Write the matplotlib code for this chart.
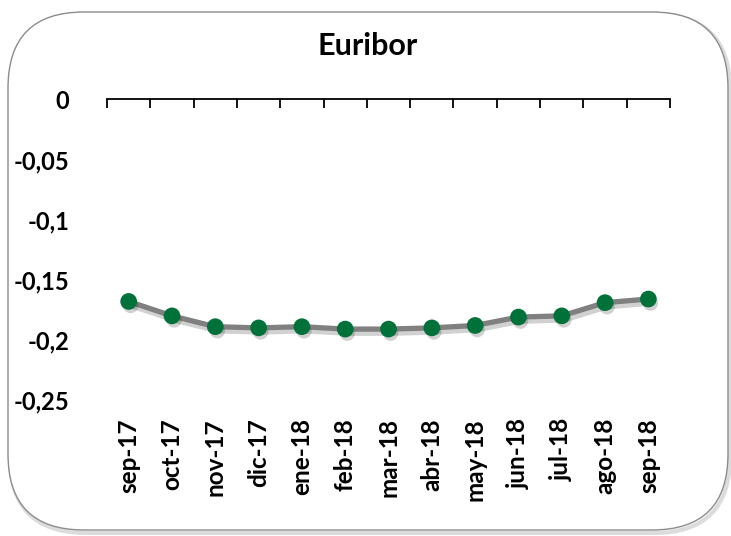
#
# Euribor chart
#
import matplotlib
matplotlib.use('Agg')
import matplotlib.pyplot as plt
import matplotlib.patheffects as pe
from matplotlib.patches import FancyBboxPatch
from matplotlib.transforms import IdentityTransform

months = ['sep-17', 'oct-17', 'nov-17', 'dic-17', 'ene-18', 'feb-18', 'mar-18',
          'abr-18', 'may-18', 'jun-18', 'jul-18', 'ago-18', 'sep-18']
euribor = [-0.168, -0.180, -0.189, -0.190, -0.189, -0.191, -0.191,
           -0.190, -0.188, -0.181, -0.180, -0.169, -0.166]
y_ticks = [0, -0.05, -0.1, -0.15, -0.2, -0.25]
y_labels = ['0', '-0,05', '-0,1', '-0,15', '-0,2', '-0,25']

plt.rcParams['font.family'] = ['Lato', 'DejaVu Sans']

fig = plt.figure(figsize=(7.31, 5.36), dpi=100)

# rounded frame with a soft shadow
shadow = FancyBboxPatch((10, 3), 720, 519, boxstyle="round,pad=0,rounding_size=76",
                        transform=IdentityTransform(), facecolor='none',
                        edgecolor='#dcdcdc', linewidth=3, zorder=-2)
frame = FancyBboxPatch((8, 6), 720, 518, boxstyle="round,pad=0,rounding_size=76",
                       transform=IdentityTransform(), facecolor='white',
                       edgecolor='#8c8c8c', linewidth=1, zorder=-1)
fig.patches.append(shadow)
fig.patches.append(frame)

ax = fig.add_axes([0.1464, 0.2537, 0.7702, 0.5607])
ax.set_facecolor('none')
ax.set_zorder(2)

x = list(range(len(months)))
ax.plot(x, euribor, color='#808080', linewidth=3.8, zorder=3,
        path_effects=[pe.SimpleLineShadow(offset=(1.5, -3), shadow_color='black', alpha=0.18),
                      pe.Normal()])
ax.plot(x, euribor, linestyle='none', marker='o', markersize=11,
        markerfacecolor='#007139', markeredgecolor='#007139', zorder=4,
        path_effects=[pe.SimplePatchShadow(offset=(1.5, -3), shadow_rgbFace='black', alpha=0.18),
                      pe.Normal()])

ax.set_xlim(-0.5, len(months) - 0.5)
ax.set_ylim(-0.25, 0)

for side in ['left', 'right', 'bottom']:
    ax.spines[side].set_visible(False)
ax.spines['top'].set_linewidth(1.3)

ax.set_yticks(y_ticks)
ax.set_yticklabels(y_labels, fontsize=17, fontweight='bold')
ax.tick_params(axis='y', length=0, pad=27)

ax.set_xticks(x)
ax.set_xticklabels(months, rotation=90, fontsize=17.5, fontweight='bold')
ax.tick_params(axis='x', which='major', length=0, pad=13)
ax.set_xticks([i - 0.5 for i in range(len(months) + 1)], minor=True)
ax.tick_params(axis='x', which='minor', top=True, bottom=False, direction='in',
               length=6.5, width=1.3)

fig.text(0.503, 0.914, 'Euribor', ha='center', va='center', fontsize=22, fontweight='bold',
         zorder=3)

plt.savefig('out.png', dpi=100)
plt.close(fig)
